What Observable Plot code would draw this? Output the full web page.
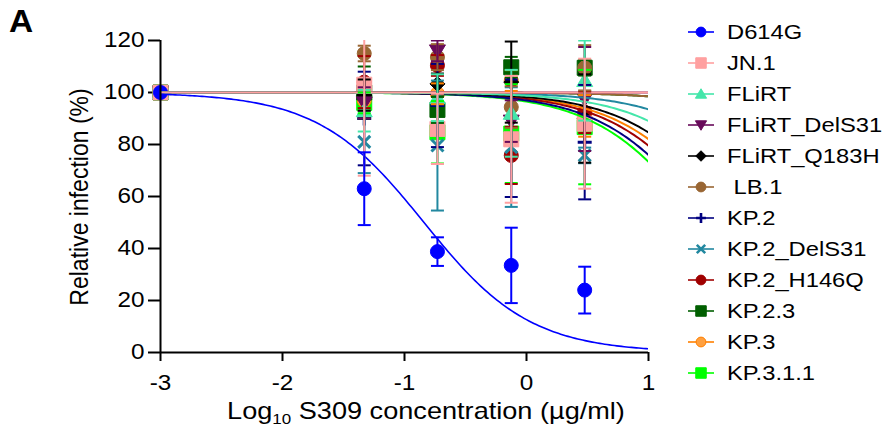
<!DOCTYPE html>
<html><head><meta charset="utf-8">
<script src="https://cdn.jsdelivr.net/npm/d3@7"></script>
<script src="https://cdn.jsdelivr.net/npm/@observablehq/plot@0.6"></script>
<style>
body{margin:0;background:#fff;font-family:"Liberation Sans",Arial,sans-serif;}
#wrap{position:relative;width:887px;height:440px;overflow:hidden;}
#legend{position:absolute;left:688px;top:16px;}
.row{display:flex;align-items:center;height:31px;font-size:21px;color:#000;white-space:pre;}
.row svg{margin-right:13px;display:block}
.row span{display:inline-block;transform:scaleX(1.13);transform-origin:left center;}
#panel{position:absolute;left:9px;top:4px;font-weight:bold;font-size:31px;line-height:1.15;transform:scaleX(1.08);transform-origin:left;}
#xlabel{position:absolute;left:426px;top:397px;font-size:24px;white-space:nowrap;transform:translateX(-50%) scaleX(1.13);}
#xlabel sub{font-size:15px;vertical-align:-5px;line-height:0}
#ylabel{position:absolute;left:80px;top:197px;font-size:23px;transform:translate(-50%,-50%) rotate(-90deg) scaleY(1.13);white-space:nowrap;}
</style></head><body>
<div id="wrap"><div id="chart"></div><div id="legend"></div><div id="panel">A</div>
<div id="xlabel">Log<sub>10</sub> S309 concentration (µg/ml)</div>
<div id="ylabel">Relative infection (%)</div></div>
<script>
const seriesNames = ["D614G","JN.1","FLiRT","FLiRT_DelS31","FLiRT_Q183H"," LB.1","KP.2","KP.2_DelS31","KP.2_H146Q","KP.2.3","KP.3","KP.3.1.1"];
const colors = ["#0000ff","#ffa0a0","#44e6aa","#680a5a","#000000","#996633","#000080","#2288a0","#a00000","#005f00","#ff8000","#00ff00"];
const fills  = ["#0000ff","#ffa0a0","#44e6aa","#680a5a","#000000","#996633","#000080","#2288a0","#a00000","#005f00","#ffa040","#00ff00"];
const symbols = ["circle","square","triangle","triangleDown","diamond","circle","plus","times","circle","square","circle","square"];
const logConc = [-3, -1.33, -0.73, -0.125, 0.477];
const means = [
 [100, 63, 38.8, 33.5, 24],
 [100, 103, 86, 82, 88],
 [100, 93, 98, 92, 104.6],
 [100, 96, 116, 89, 97.5],
 [100, 99, 103.3, 104, 90],
 [100, 115, 113.6, 94.4, 109.5],
 [100, 90, 95, 82.4, 80.9],
 [100, 81, 79.6, 79, 75.8],
 [100, 104, 110.4, 75.8, 92.4],
 [100, 100, 93.3, 109.7, 109.5],
 [100, 97, 99.5, 104.6, 91],
 [100, 96, 84.7, 84.2, 86.7]
];
const sds = [
 [0, 14, 5.5, 14.5, 9],
 [0, 35, 13.5, 24.4, 25],
 [0, 8, 9, 16.7, 15.4],
 [0, 6, 4, 8, 20],
 [0, 6, 4, 15.6, 17],
 [0, 3, 5, 8, 8.7],
 [0, 18, 16, 22.6, 22],
 [0, 12, 25, 23, 3],
 [0, 10, 4, 11, 8],
 [0, 10, 5, 4, 3],
 [0, 4, 4, 4, 8],
 [0, 4, 12, 19, 22]
];
// fitted curve parameters (log IC50 and Hill slope), top 100, bottom 0
const logIC50 = [-0.84, 5, 1.91, 5, 1.74, 2.82, 1.50, 2.16, 1.59, 2.82, 1.66, 1.44];
const hillSlope = [1, 1, 1, 1, 1, 1, 1, 1, 1, 1, 1, 1];
const xTicks = [-3, -2, -1, 0, 1];
const yTicks = [0, 20, 40, 60, 80, 100, 120];

function drawSymbol(ctx, name, k) {
  if (name === "circle") { const r = 7*k; ctx.moveTo(r,0); ctx.arc(0,0,r,0,2*Math.PI); }
  else if (name === "square") { const s = 7.5*k; ctx.moveTo(-s,-s); ctx.lineTo(s,-s); ctx.lineTo(s,s); ctx.lineTo(-s,s); ctx.closePath(); }
  else if (name === "triangle") { ctx.moveTo(0,-7.5*k); ctx.lineTo(8*k,6*k); ctx.lineTo(-8*k,6*k); ctx.closePath(); }
  else if (name === "triangleDown") { ctx.moveTo(0,7.5*k); ctx.lineTo(8*k,-6*k); ctx.lineTo(-8*k,-6*k); ctx.closePath(); }
  else if (name === "diamond") { const s=7.5*k; ctx.moveTo(0,-s); ctx.lineTo(s,0); ctx.lineTo(0,s); ctx.lineTo(-s,0); ctx.closePath(); }
  else if (name === "plus") { const s=7*k; ctx.moveTo(-s,0); ctx.lineTo(s,0); ctx.moveTo(0,-s); ctx.lineTo(0,s); }
  else if (name === "times") { const s=6*k; ctx.moveTo(-s,-s); ctx.lineTo(s,s); ctx.moveTo(s,-s); ctx.lineTo(-s,s); }
}
const strokeOnly = n => n === "plus" || n === "times";
const capSymbol = {draw(ctx){ ctx.moveTo(-6.5,0); ctx.lineTo(6.5,0); }};

const points = [];
seriesNames.forEach((s,i) => logConc.forEach((x,j) => points.push({i, x, y: means[i][j], lo: means[i][j]-sds[i][j], hi: means[i][j]+sds[i][j], sd: sds[i][j]})));
const curveX = d3.range(-3, 1.0001, 0.02);
const curves = [];
seriesNames.forEach((s,i) => curveX.forEach(x => curves.push({i, x, y: 100/(1+Math.pow(10,(x-logIC50[i])*hillSlope[i]))})));

const order = d3.range(seriesNames.length).reverse();
const marks = [
  Plot.axisY({ticks: yTicks, tickSize: 12, tickPadding: 4, fontSize: 21, label: null, strokeWidth: 2}),
  Plot.axisX({ticks: xTicks, tickSize: 9, tickPadding: 13, fontSize: 21, label: null, strokeWidth: 2, tickFormat: d => String(d)}),
];
for (const i of order) {
  const pts = points.filter(d => d.i === i);
  const sym = {draw(ctx){ drawSymbol(ctx, symbols[i], 1); }};
  marks.push(Plot.dot(pts, {x: "x", y: "y", symbol: sym, r: 7,
    fill: strokeOnly(symbols[i]) ? "none" : fills[i], stroke: colors[i],
    strokeWidth: strokeOnly(symbols[i]) ? 3 : 1, fillOpacity: 1}));
}
for (const i of order) {
  marks.push(Plot.line(curves.filter(d => d.i === i), {x: "x", y: "y", stroke: colors[i], strokeWidth: i === 0 ? 1.6 : 2, clip: true}));
}
for (const i of order) {
  const pts = points.filter(d => d.i === i && d.sd > 0);
  marks.push(Plot.ruleX(pts, {x: "x", y1: "lo", y2: "hi", stroke: colors[i], strokeWidth: 2, clip: true}));
  marks.push(Plot.dot(pts, {x: "x", y: "hi", symbol: capSymbol, stroke: colors[i], strokeWidth: 2, clip: true}));
  marks.push(Plot.dot(pts, {x: "x", y: "lo", symbol: capSymbol, stroke: colors[i], strokeWidth: 2, clip: true}));
}
marks.push(Plot.ruleX([-3], {strokeWidth: 2}));
marks.push(Plot.ruleY([0], {strokeWidth: 2}));

const chart = Plot.plot({
  width: 887, height: 440,
  marginLeft: 160, marginRight: 239, marginTop: 40, marginBottom: 88,
  x: {domain: [-3, 1]}, y: {domain: [0, 120]},
  style: {fontFamily: "'Liberation Sans', Arial, sans-serif", fontSize: "21px", color: "#000", background: "white"},
  marks
});
document.getElementById("chart").appendChild(chart);
// widen tick labels to match the reference's horizontally stretched lettering
chart.querySelectorAll('g[aria-label$="tick label"] text').forEach(t => {
  t.style.fontSize = "21.5px";
  const tr = t.getAttribute("transform");
  if (tr) {
    t.setAttribute("transform", tr + " scale(1.13,1)");
  } else {
    const x = +t.getAttribute("x") || 0, y = +t.getAttribute("y") || 0;
    t.removeAttribute("x"); t.removeAttribute("y");
    t.setAttribute("transform", `translate(${x},${y}) scale(1.13,1)`);
  }
});

const legend = document.getElementById("legend");
seriesNames.forEach((name, i) => {
  const p = d3.path(); drawSymbol(p, symbols[i], 0.7);
  const row = document.createElement("div"); row.className = "row";
  const so = strokeOnly(symbols[i]);
  row.innerHTML = `<svg width="26" height="20" viewBox="-13 -10 26 20"><line x1="-13" x2="13" y1="0" y2="0" stroke="${colors[i]}" stroke-width="1.6"/><path d="${p}" fill="${so ? "none" : fills[i]}" stroke="${colors[i]}" stroke-width="${so ? 2.6 : 1}"/></svg><span></span>`;
  row.querySelector("span").textContent = name;
  legend.appendChild(row);
});
</script></body></html>
